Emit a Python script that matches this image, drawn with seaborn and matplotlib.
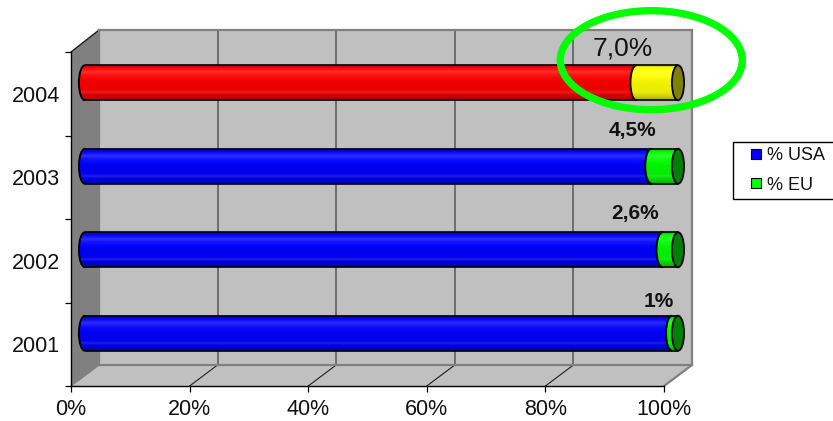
import numpy as np
import matplotlib
matplotlib.use('Agg')
import matplotlib.pyplot as plt
import seaborn as sns
from matplotlib.lines import Line2D
from matplotlib.patches import Arc, Ellipse, PathPatch, Polygon, Rectangle
from matplotlib.path import Path

years = ['2004', '2003', '2002', '2001']
usa = [93, 95.5, 97.4, 99]
eu = [7, 4.5, 2.6, 1]
eu_labels = ['7,0%', '4,5%', '2,6%', '1%']
usa_colors = ['#ff0000', '#0000ff', '#0000ff', '#0000ff']
eu_colors = ['#ffff00', '#00ff00', '#00ff00', '#00ff00']
x_ticks = [0, 20, 40, 60, 80, 100]

W, H = 833, 421
sns.set_theme(style='white')
plt.rcParams['font.family'] = ['Liberation Sans', 'DejaVu Sans']

fig = plt.figure(figsize=(W / 100, H / 100), dpi=100)


def px_axes(left, right, top, bottom, z):
    a = fig.add_axes([left / W, 1 - bottom / H, (right - left) / W, (bottom - top) / H])
    a.set_zorder(z)
    a.patch.set_visible(False)
    return a


def fig_xy(pts):
    return [(x / W, 1 - y / H) for x, y in pts]


# side wall and floor of the 3D box
fig.add_artist(Polygon(fig_xy([(71, 52), (99, 30), (99, 365), (71, 386)]), closed=True,
                       fc='#808080', ec='none', zorder=0))
fig.add_artist(Polygon(fig_xy([(71, 386), (664, 386), (692, 365), (99, 365)]), closed=True,
                       fc='#c0c0c0', ec='none', zorder=0))

# back wall
back = px_axes(99, 692, 30, 365, 1)
back.patch.set_visible(True)
back.set_facecolor('#c0c0c0')
back.set_xlim(0, 100)
back.set_xticks(x_ticks[1:-1])
back.set_yticks([])
back.set_xticklabels([])
back.grid(axis='x', color='#5f5f5f', lw=1.2)
back.tick_params(length=0)
for s in back.spines.values():
    s.set_color('#808080')
    s.set_linewidth(1.6)

for p, q, col, lw in [((71, 386), (99, 365), '#808080', 1.0),
                      ((664, 386), (692, 365), '#808080', 1.6),
                      ((71, 52), (99, 30), '#202020', 1.0)]:
    xs, ys = zip(*fig_xy([p, q]))
    fig.add_artist(Line2D(xs, ys, color=col, lw=lw, zorder=0.5))
for v in x_ticks[1:-1]:
    x0 = 71 + v / 100 * 593
    xs, ys = zip(*fig_xy([(x0, 386), (x0 + 28, 365)]))
    fig.add_artist(Line2D(xs, ys, color='#202020', lw=0.8, zorder=0.5))

# bars sit half way into the box
ax = px_axes(85, 678, 41, 375, 2)
totals = [a + b for a, b in zip(usa, eu)]
sns.barplot(x=totals, y=years, hue=years, hue_order=years, order=years, palette=eu_colors,
            dodge=False, saturation=1, width=0.42, legend=False, ax=ax)
sns.barplot(x=usa, y=years, hue=years, hue_order=years, order=years, palette=usa_colors,
            dodge=False, saturation=1, width=0.42, legend=False, ax=ax)
ax.set_axis_off()

# top to bottom: how dark and how much white over the base colour
shade = np.array([.72, .97, 1, 1, 1, 1, .97, .95, .94, .93, .93, .92, .90, .87, .80, .70])
gloss = np.array([0, 0, .08, .18, .10, .05, .02, 0, 0, 0, 0, 0, .12, 0, 0, 0])


def gradient(color):
    rgb = np.array(matplotlib.colors.to_rgb(color))
    rows = rgb * shade[:, None]
    rows = rows + (1 - rows) * gloss[:, None]
    return rows[:, None, :]


def unit_path(patch):
    return patch.get_path().transformed(patch.get_patch_transform())


ew = 2.05  # cap width in percent units
n = len(years)
bars_total = ax.patches[:n]
bars_usa = ax.patches[n:2 * n]
for i in range(n):
    b = bars_usa[i]
    y0, h = b.get_y(), b.get_height()
    yc = y0 + h / 2
    end = totals[i]
    split = usa[i]
    for start, stop, col, z in [(0, split, usa_colors[i], 3), (split, end, eu_colors[i], 4)]:
        r = Rectangle((start, y0), stop - start, h)
        e = Ellipse((start, yc), ew, h)
        clip = PathPatch(Path.make_compound_path(unit_path(r), unit_path(e)),
                         transform=ax.transData, fc='none', ec='none', clip_on=False)
        ax.add_patch(clip)
        im = ax.imshow(gradient(col), extent=(start - ew, stop, y0 + h, y0), aspect='auto',
                       interpolation='bilinear', zorder=z)
        im.set_clip_box(fig.bbox)
        im.set_clip_path(clip)
        ax.add_patch(Arc((start, yc), ew, h, theta1=90, theta2=270, color='black', lw=1.4,
                         zorder=z + .5, clip_on=False))
    ax.plot([0, end], [y0, y0], color='black', lw=1.2, zorder=5, solid_capstyle='butt')
    ax.plot([0, end], [y0 + h, y0 + h], color='black', lw=1.2, zorder=5, solid_capstyle='butt')
    dark = np.array(matplotlib.colors.to_rgb(eu_colors[i])) * 0.5
    ax.add_patch(Ellipse((end, yc), ew, h, fc=dark, ec='black', lw=1.3, zorder=6, clip_on=False))
    bars_total[i].set_visible(False)
    b.set_visible(False)
ax.set_xlim(0, 100)
ax.set_ylim(3.5, -0.5)

# data labels
ax.text(90.7, -0.415, eu_labels[0], fontsize=19, ha='center', va='center', color='#111111')
for i, lx, ly in [(1, 92.4, 0.57), (2, 92.8, 1.56), (3, 96.8, 2.62)]:
    ax.text(lx, ly, eu_labels[i], fontsize=15, fontweight='bold', ha='center', va='center',
            color='#111111')

# green highlight ring
ax.add_patch(Ellipse((95.5, -0.27), 30.7, 1.186, fc='none', ec='#00ff00', lw=5.3, clip_on=False, zorder=8))

# front axes carry the ticks and labels
front = px_axes(71, 664, 52, 386, 3)
front.set_xlim(0, 100)
front.set_ylim(4, 0)
front.set_xticks(x_ticks)
front.set_xticklabels([f'{v}%' for v in x_ticks])
front.set_yticks(range(5))
front.set_yticklabels([])
front.set_yticks([i + .5 for i in range(4)], labels=years, minor=True)
front.tick_params(axis='both', which='major', length=4.5, width=0.9, color='black', left=True, bottom=True)
front.tick_params(axis='y', which='minor', length=0, left=False, pad=8)
front.tick_params(axis='x', labelsize=15.5, pad=5, labelcolor='#111111')
front.tick_params(axis='y', which='minor', labelsize=15.5, labelcolor='#111111')
for name in ['top', 'right']:
    front.spines[name].set_visible(False)
for name in ['left', 'bottom']:
    front.spines[name].set_color('black')
    front.spines[name].set_linewidth(1.0)

# legend
handles = [Line2D([], [], ls='none', marker='s', ms=7.5, mfc='#0000ff', mec='black', mew=0.8),
           Line2D([], [], ls='none', marker='s', ms=7.5, mfc='#00ff00', mec='black', mew=0.8)]
leg = fig.legend(handles, ['% USA', '% EU'], loc='upper left',
                 bbox_to_anchor=(733 / W, 1 - 142 / H, 102 / W, 0), bbox_transform=fig.transFigure,
                 mode='expand', fontsize=13, frameon=True, fancybox=False, edgecolor='black',
                 framealpha=1, handlelength=2.0, handletextpad=-0.39, borderpad=0.3,
                 labelspacing=0.68, borderaxespad=0, labelcolor='#111111')
leg.get_frame().set_linewidth(1.0)
leg.set_zorder(5)

fig.savefig('out.png', dpi=100)
